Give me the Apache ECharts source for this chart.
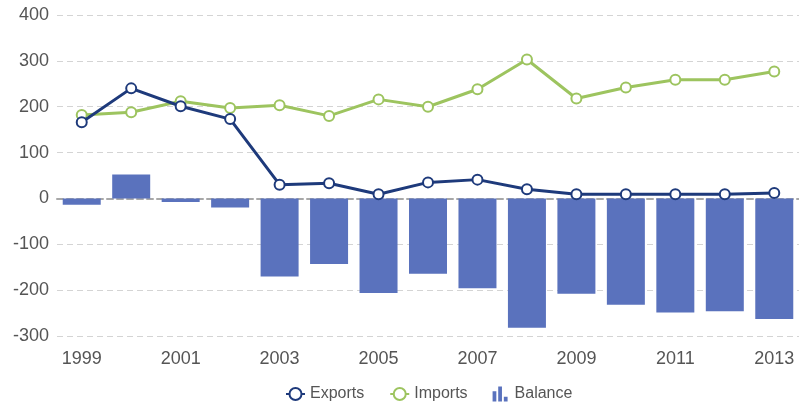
<!DOCTYPE html>
<html>
<head>
<meta charset="utf-8">
<script src="https://cdn.jsdelivr.net/npm/echarts@6/dist/echarts.min.js"></script>
<style>
html, body { margin: 0; padding: 0; background: #fff; }
#main { width: 799px; height: 402px; }
</style>
</head>
<body>
<div id="main"></div>
<script>
var years = ['1999','2000','2001','2002','2003','2004','2005','2006','2007','2008','2009','2010','2011','2012','2013'];
var exportsData = [166, 240, 201, 173, 30, 33, 9, 35, 41, 20, 9, 9, 9, 9, 12];
var importsData = [182, 188, 212, 197, 203, 180, 216, 200, 238, 303, 218, 242, 259, 259, 277];
var balanceData = [-14, 52, -8, -20, -170, -143, -206, -164, -196, -282, -208, -232, -249, -246, -263];

var barIcon = 'path://M0,5h4v11h-4z M6,0h4v16h-4z M12,11h4v5h-4z';

var myChart = echarts.init(document.getElementById('main'));

var option = {
	animation: false,
	textStyle: { fontFamily: 'Liberation Sans, Arial, sans-serif' },
	grid: { left: 57, right: -5, top: 15, bottom: 66, containLabel: false },
	legend: {
		top: 381,
		left: 280,
		itemGap: 25,
		itemWidth: 19,
		itemHeight: 15,
		textStyle: { fontSize: 16, color: '#555' },
		data: [
			{ name: 'Exports' },
			{ name: 'Imports' },
			{ name: 'Balance', icon: barIcon }
		]
	},
	xAxis: {
		type: 'category',
		data: years,
		boundaryGap: true,
		axisLine: { onZero: true, lineStyle: { color: '#a8a8a8', width: 2, type: [6, 4] } },
		axisTick: { show: false },
		axisLabel: { interval: 1, fontSize: 18, color: '#555', margin: 14 }
	},
	yAxis: {
		type: 'value',
		min: -300,
		max: 400,
		interval: 100,
		axisLine: { show: false },
		axisTick: { show: false },
		axisLabel: { fontSize: 18, color: '#555', margin: 8 },
		splitLine: { lineStyle: { color: '#d4d4d4', type: [6, 4], width: 1 } }
	},
	series: [
		{
			name: 'Exports',
			type: 'line',
			data: exportsData,
			symbol: 'circle',
			symbolSize: 10,
			z: 4,
			lineStyle: { color: '#1e3a7b', width: 3 },
			itemStyle: { color: '#fff', borderColor: '#1e3a7b', borderWidth: 2 }
		},
		{
			name: 'Imports',
			type: 'line',
			data: importsData,
			symbol: 'circle',
			symbolSize: 10,
			z: 3,
			lineStyle: { color: '#9dc45f', width: 3 },
			itemStyle: { color: '#fff', borderColor: '#9dc45f', borderWidth: 2 }
		},
		{
			name: 'Balance',
			type: 'bar',
			data: balanceData,
			barWidth: 38,
			z: 1,
			itemStyle: { color: '#5a72bd' }
		}
	]
};

myChart.setOption(option);
</script>
</body>
</html>
